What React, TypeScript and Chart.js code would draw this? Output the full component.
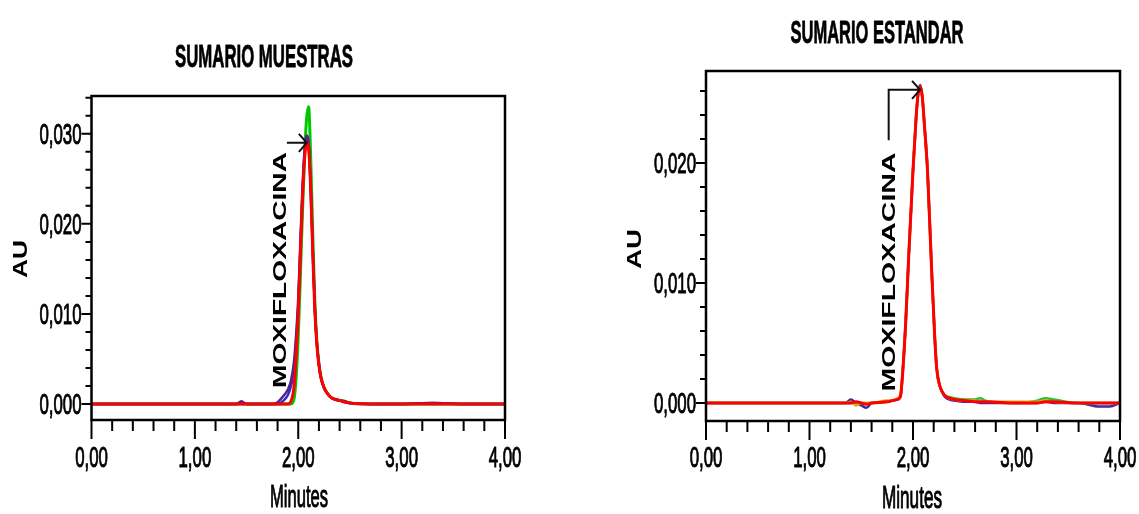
import React, { useEffect, useRef } from "react";
import { Chart, registerables } from "chart.js";

Chart.register(...registerables);

// ---------- SUMARIO MUESTRAS (samples) ----------
const sampleTimes = [0, 0.5, 1.0, 1.4, 1.45, 1.5, 1.6, 1.75, 1.8, 1.85, 1.9, 1.93, 1.96, 1.98, 2.0, 2.02, 2.04, 2.06, 2.08, 2.1, 2.12, 2.14, 2.16, 2.18, 2.2, 2.22, 2.25, 2.28, 2.32, 2.36, 2.4, 2.45, 2.5, 2.7, 3.0, 3.3, 3.6, 4.0];
const sampleRed = [0, 0, 0, 0, 0, 0, 0, 0, 0, 0, 0, 0.0003, 0.002, 0.0055, 0.01, 0.0165, 0.0225, 0.027, 0.0291, 0.0284, 0.024, 0.017, 0.0105, 0.0066, 0.0043, 0.0029, 0.0018, 0.0012, 0.0007, 0.0005, 0.0004, 0.0002, 0.0001, 0, 0, 0, 0, 0];
const sampleGreen = [0, 0, 0, 0, 0, 0, 0, 0, 0, 0, 0, 0, 0.0006, 0.003, 0.0075, 0.014, 0.021, 0.0272, 0.0316, 0.033, 0.0275, 0.019, 0.0115, 0.007, 0.0045, 0.003, 0.0018, 0.0012, 0.0007, 0.0005, 0.0004, 0.0003, 0.0001, 0, 0, 0, 0, 0];
const samplePurple = [0, 0, 0, 0, 0.0003, 0, 0, 0, 0.0002, 0.0008, 0.0016, 0.0026, 0.0048, 0.0078, 0.0118, 0.0178, 0.0238, 0.028, 0.0298, 0.029, 0.0242, 0.0172, 0.0108, 0.0068, 0.0044, 0.0029, 0.0018, 0.0012, 0.0007, 0.0005, 0.0004, 0.0003, 0.0001, 0, 0, 0.0001, 0, 0];
const sampleBlue = [0, 0, 0, 0, 0.0002, 0, 0, 0, 0, 0.0003, 0.001, 0.002, 0.004, 0.007, 0.011, 0.0172, 0.0232, 0.0276, 0.0296, 0.0289, 0.0241, 0.0171, 0.0107, 0.0067, 0.0044, 0.0029, 0.0018, 0.0012, 0.0007, 0.0005, 0.0004, 0.0002, 0.0001, 0, 0, 0.0001, 0, 0];

// ---------- SUMARIO ESTANDAR (standard) ----------
const standardTimes = [0, 0.5, 1.0, 1.35, 1.4, 1.45, 1.5, 1.55, 1.6, 1.75, 1.8, 1.85, 1.88, 1.9, 1.93, 1.96, 2.0, 2.03, 2.05, 2.07, 2.09, 2.11, 2.14, 2.18, 2.21, 2.23, 2.26, 2.3, 2.35, 2.4, 2.5, 2.6, 2.65, 2.7, 3.0, 3.2, 3.28, 3.36, 3.6, 3.8, 3.9, 4.0];
const standardRed = [0, 0, 0, 0, 0, 0.0001, 0, -0.0001, 0, 0.0001, 0.0002, 0.0003, 0.0006, 0.0025, 0.0068, 0.0125, 0.0194, 0.0238, 0.0258, 0.0264, 0.0255, 0.0232, 0.0194, 0.0111, 0.0055, 0.0028, 0.0014, 0.0007, 0.0004, 0.0003, 0.0002, 0.0001, 0.0001, 0.0001, 0, 0, 0.0001, 0.0001, 0, 0, 0, 0];
const standardPurple = [0, 0, 0, 0, 0.0003, 0, -0.0002, -0.0004, 0, 0.0001, 0.0002, 0.0003, 0.0006, 0.0025, 0.0068, 0.0125, 0.0194, 0.0238, 0.0258, 0.0265, 0.0255, 0.0232, 0.0194, 0.0111, 0.0055, 0.0028, 0.0014, 0.0006, 0.0003, 0.0002, 0.0001, 0.0001, 0, 0, 0, 0, 0.0001, 0, 0, -0.0003, -0.0003, 0];
const standardGreen = [0, 0, 0, 0, 0, 0, 0, 0, 0, 0.0001, 0.0002, 0.0003, 0.0006, 0.0025, 0.0068, 0.0125, 0.0194, 0.0238, 0.0258, 0.0264, 0.0255, 0.0232, 0.0194, 0.0111, 0.0055, 0.0028, 0.0014, 0.0007, 0.0005, 0.0004, 0.0003, 0.0003, 0.0004, 0.0002, 0, 0.0002, 0.0004, 0.0003, 0, 0, 0, 0];
const standardOrange = [0, 0, 0, 0, 0.0001, -0.0002, 0, 0, 0, 0.0002, 0.0002, 0.0004, 0.0008, 0.0025, 0.0068, 0.0125, 0.0194, 0.0238, 0.0258, 0.0264, 0.0255, 0.0232, 0.0194, 0.0111, 0.0055, 0.0028, 0.0014, 0.0007, 0.0004, 0.0003, 0.0002, 0.0002, 0.0001, 0.0001, 0.0001, 0.0001, 0.0002, 0.0001, 0, 0, 0, 0];

// ---------- axis ticks & labels ----------
const xMajorValues = [0, 1, 2, 3, 4];
const xTickLabels = ["0,00", "1,00", "2,00", "3,00", "4,00"];
const sampleYMajorValues = [0, 0.01, 0.02, 0.03];
const sampleYTickLabels = ["0,000", "0,010", "0,020", "0,030"];
const standardYMajorValues = [0, 0.01, 0.02];
const standardYTickLabels = ["0,000", "0,010", "0,020"];

const peakName = "MOXIFLOXACINA";

const FONT = '"Liberation Sans", Arial, "DejaVu Sans", sans-serif';

type TextOpts = {
  size: number;
  weight?: string;
  width?: number;
  sx?: number;
  angle?: number;
  align?: CanvasTextAlign;
  stroke?: number;
};

function fitText(ctx: CanvasRenderingContext2D, text: string, cx: number, cy: number, o: TextOpts) {
  ctx.save();
  ctx.font = `${o.weight || "normal"} ${o.size}px ${FONT}`;
  const w = ctx.measureText(text).width;
  const sx = o.width ? o.width / w : o.sx || 1;
  ctx.translate(cx, cy);
  if (o.angle) ctx.rotate(o.angle);
  ctx.scale(sx, 1);
  ctx.textAlign = o.align || "center";
  ctx.textBaseline = "alphabetic";
  ctx.fillStyle = "#000";
  ctx.fillText(text, 0, o.size * 0.358);
  if (o.stroke) {
    ctx.strokeStyle = "#000";
    ctx.lineWidth = o.stroke;
    ctx.lineJoin = "round";
    ctx.strokeText(text, 0, o.size * 0.358);
  }
  ctx.restore();
}

type Series = { name: string; values: number[]; color: string; width: number };

type PanelSpec = {
  id: string;
  left: number;
  width: number;
  padding: { left: number; right: number; top: number; bottom: number };
  times: number[];
  series: Series[];
  yMin: number;
  yMax: number;
  yMinorMax: number;
  yMajorValues: number[];
  yTickLabels: string[];
  title: string;
  titlePos: [number, number, number];
  auPos: [number, number, number];
  minutesPos: [number, number, number];
  namePos: [number, number, number];
  arrow: { startT: number; tipT: number; au: number; stemAu: number | null };
};

function decoPlugin(p: PanelSpec) {
  return {
    id: "deco_" + p.id,
    afterDatasetsDraw(chart: any) {
      const ctx: CanvasRenderingContext2D = chart.ctx;
      const xs = chart.scales.x;
      const ys = chart.scales.y;
      const a = chart.chartArea;
      // peak annotation arrow
      const y0 = ys.getPixelForValue(p.arrow.au);
      const xStart = xs.getPixelForValue(p.arrow.startT);
      const xTip = xs.getPixelForValue(p.arrow.tipT);
      ctx.save();
      ctx.strokeStyle = "#111";
      ctx.lineWidth = 2;
      ctx.beginPath();
      if (p.arrow.stemAu !== null) {
        ctx.moveTo(xStart, ys.getPixelForValue(p.arrow.stemAu));
        ctx.lineTo(xStart, y0);
      } else {
        ctx.moveTo(xStart, y0);
      }
      ctx.lineTo(xTip, y0);
      ctx.moveTo(xTip - 8, y0 - 9);
      ctx.lineTo(xTip, y0);
      ctx.lineTo(xTip - 8, y0 + 9);
      ctx.stroke();
      ctx.restore();

      // frame
      ctx.save();
      ctx.strokeStyle = "#000";
      ctx.lineWidth = 2.5;
      ctx.strokeRect(a.left, a.top, a.right - a.left, a.bottom - a.top);
      ctx.lineWidth = 2;
      ctx.beginPath();
      // x ticks
      for (let i = 0; i <= 20; i++) {
        const v = i * 0.2;
        const x = xs.getPixelForValue(v);
        const major = i % 5 === 0;
        ctx.moveTo(x, a.bottom);
        ctx.lineTo(x, a.bottom + (major ? 19 : 11));
      }
      // y ticks
      const n = Math.round(p.yMinorMax / 0.002);
      for (let i = 0; i <= n; i++) {
        const v = i * 0.002;
        const y = ys.getPixelForValue(v);
        const major = i % 5 === 0;
        ctx.moveTo(a.left, y);
        ctx.lineTo(a.left - (major ? 10 : 6), y);
      }
      ctx.stroke();
      ctx.restore();

      // tick labels
      xMajorValues.forEach((v, i) => {
        fitText(ctx, xTickLabels[i], xs.getPixelForValue(v), 457, { size: 29, sx: 0.58, stroke: 1 });
      });
      p.yMajorValues.forEach((v, i) => {
        fitText(ctx, p.yTickLabels[i], a.left - 10, ys.getPixelForValue(v), { size: 29, sx: 0.58, align: "right", stroke: 1 });
      });

      // texts
      fitText(ctx, p.title, p.titlePos[0], p.titlePos[1], { size: 31, weight: "bold", width: p.titlePos[2], stroke: 0.8 });
      fitText(ctx, "AU", p.auPos[0], p.auPos[1], { size: 20, weight: "bold", width: p.auPos[2], angle: -Math.PI / 2 });
      fitText(ctx, "Minutes", p.minutesPos[0], p.minutesPos[1], { size: 31, width: p.minutesPos[2], stroke: 1 });
      fitText(ctx, peakName, p.namePos[0], p.namePos[1], { size: 19, weight: "bold", width: p.namePos[2], angle: -Math.PI / 2 });
    },
  };
}

const samplesPanel: PanelSpec = {
  id: "muestras",
  left: 0,
  width: 560,
  padding: { left: 91.5, right: 55, top: 96, bottom: 94 },
  times: sampleTimes,
  series: [
    { name: "Muestra 4", values: sampleRed, color: "#ff0000", width: 3 },
    { name: "Muestra 1", values: samplePurple, color: "#5a1f8c", width: 2.5 },
    { name: "Muestra 2", values: sampleBlue, color: "#2f2fd0", width: 2.5 },
    { name: "Muestra 3", values: sampleGreen, color: "#00c800", width: 3 },
  ],
  yMin: -0.00178,
  yMax: 0.0342,
  yMinorMax: 0.034,
  yMajorValues: sampleYMajorValues,
  yTickLabels: sampleYTickLabels,
  title: "SUMARIO MUESTRAS",
  titlePos: [264, 56, 178],
  auPos: [20, 259, 38],
  minutesPos: [299, 496, 58],
  namePos: [279, 270, 236],
  arrow: { startT: 1.89, tipT: 2.083, au: 0.029, stemAu: null },
};

const standardPanel: PanelSpec = {
  id: "estandar",
  left: 570,
  width: 569,
  padding: { left: 136, right: 19, top: 71, bottom: 93 },
  times: standardTimes,
  series: [
    { name: "Estandar 1", values: standardRed, color: "#ff0000", width: 3 },
    { name: "Estandar 2", values: standardOrange, color: "#e8a317", width: 2.5 },
    { name: "Estandar 3", values: standardGreen, color: "#33bb33", width: 2.5 },
    { name: "Estandar 4", values: standardPurple, color: "#3a2aa8", width: 2.5 },
  ],
  yMin: -0.0015,
  yMax: 0.02767,
  yMinorMax: 0.026,
  yMajorValues: standardYMajorValues,
  yTickLabels: standardYTickLabels,
  title: "SUMARIO ESTANDAR",
  titlePos: [877 - 570, 32, 173],
  auPos: [634 - 570, 249, 40],
  minutesPos: [912 - 570, 497, 60],
  namePos: [888 - 570, 272, 239],
  arrow: { startT: 1.765, tipT: 2.068, au: 0.0261, stemAu: 0.0219 },
};

function Panel({ spec }: { spec: PanelSpec }) {
  const ref = useRef<HTMLCanvasElement>(null);
  useEffect(() => {
    const chart = new Chart(ref.current as HTMLCanvasElement, {
      type: "line",
      data: {
        datasets: spec.series.map((s) => ({
          label: s.name,
          data: spec.times.map((t, i) => ({ x: t, y: s.values[i] })),
          borderColor: s.color,
          borderWidth: s.width,
          pointRadius: 0,
          fill: false,
          cubicInterpolationMode: "monotone" as const,
        })),
      },
      options: {
        responsive: false,
        animation: false,
        events: [],
        layout: { padding: spec.padding },
        plugins: {
          legend: { display: false },
          tooltip: { enabled: false },
          title: { display: false },
        },
        scales: {
          x: { type: "linear", min: 0, max: 4, display: false },
          y: { type: "linear", min: spec.yMin, max: spec.yMax, display: false },
        },
      },
      plugins: [decoPlugin(spec)],
    });
    return () => chart.destroy();
  }, [spec]);
  return (
    <canvas
      ref={ref}
      width={spec.width}
      height={514}
      style={{ position: "absolute", left: spec.left, top: 0, width: spec.width, height: 514 }}
    />
  );
}

export default function App() {
  return (
    <div style={{ position: "absolute", left: 0, top: 0, width: 1139, height: 514, background: "#fff", overflow: "hidden" }}>
      <Panel spec={samplesPanel} />
      <Panel spec={standardPanel} />
    </div>
  );
}
